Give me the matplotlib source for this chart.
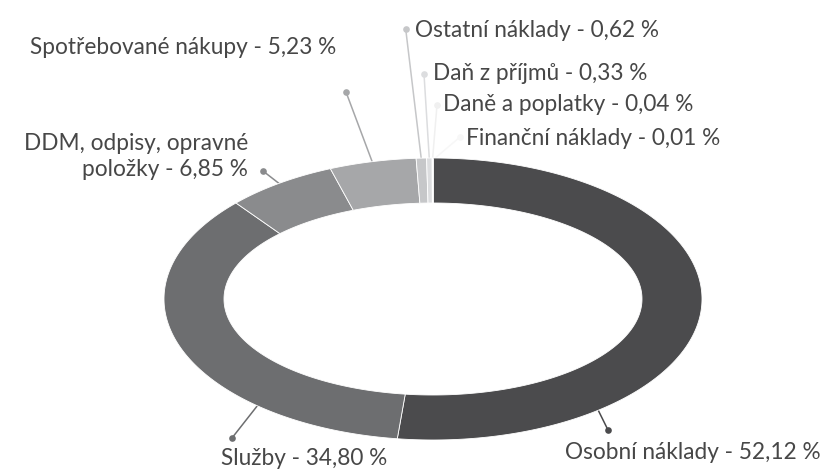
import numpy as np
import matplotlib
matplotlib.use("Agg")
import matplotlib.pyplot as plt
from matplotlib.patches import Polygon

# ---- data ----
categories = ["Osobní náklady", "Služby", "DDM, odpisy, opravné\npoložky",
              "Spotřebované nákupy", "Ostatní náklady", "Daň z příjmů",
              "Daně a poplatky", "Finanční náklady"]
values = [52.12, 34.80, 6.85, 5.23, 0.62, 0.33, 0.04, 0.01]
value_labels = ["52,12", "34,80", "6,85", "5,23", "0,62", "0,33", "0,04", "0,01"]
colors = ["#4b4b4d", "#6d6e70", "#8a8b8d", "#a6a7a9", "#c6c7c9", "#dcdddf",
          "#f0f0f0", "#f7f7f7"]

# ---- layout (pixel space) ----
W, H = 822, 470
cx, cy = 433, 299
RX_OUT, RY_OUT = 269, 141
RX_IN, RY_IN = 209, 96

# label text position (x, baseline y, ha), dot position, anchor angle override
label_pos = [
    (565, 459, "left"),
    (221, 465, "left"),
    (248, 176, "right"),
    (30, 54, "left"),
    (415, 37, "left"),
    (433, 80, "left"),
    (443, 111, "left"),
    (466, 145, "left"),
]
dot_pos = [(608, 430), (232, 438), (263, 171), (346, 92), (405.7, 29),
           (424, 74), (437, 105), (460, 137)]
anchor_override = {0: 142.0, 1: 220.8}

fig = plt.figure(figsize=(W / 100, H / 100), dpi=100)
ax = fig.add_axes([0, 0, 1, 1])
ax.set_xlim(0, W)
ax.set_ylim(H, 0)
ax.axis("off")

total = sum(values)
cum = np.concatenate([[0], np.cumsum(values)]) / total * 360.0


def ell(theta_deg, rx, ry):
    t = np.radians(theta_deg)
    return cx + rx * np.sin(t), cy - ry * np.cos(t)


for i, v in enumerate(values):
    t0, t1 = cum[i], cum[i + 1]
    ts = np.linspace(t0, t1, max(4, int((t1 - t0) * 2) + 2))
    ox, oy = ell(ts, RX_OUT, RY_OUT)
    ix, iy = ell(ts[::-1], RX_IN, RY_IN)
    pts = np.column_stack([np.concatenate([ox, ix]), np.concatenate([oy, iy])])
    ax.add_patch(Polygon(pts, closed=True, facecolor=colors[i],
                         edgecolor="white", linewidth=0.6, zorder=3))

plt.rcParams["font.family"] = ["Lato", "DejaVu Sans"]
for i, v in enumerate(values):
    mid = anchor_override.get(i, (cum[i] + cum[i + 1]) / 2)
    axp, ayp = ell(mid, RX_OUT - 2, RY_OUT - 2)
    dx, dy = dot_pos[i]
    ax.plot([dx, axp], [dy, ayp], color=colors[i], lw=1.1, zorder=2,
            solid_capstyle="round")
    ax.plot([dx], [dy], "o", color=colors[i], markersize=4.8, zorder=2,
            markeredgewidth=0)
    tx, ty, ha = label_pos[i]
    ax.text(tx, ty, f"{categories[i]} - {value_labels[i]} %", ha=ha,
            va="baseline", fontsize=16.3, color="#474747",
            family=["Lato", "DejaVu Sans"], fontweight="normal",
            multialignment="right", linespacing=1.28)

fig.savefig("out.png", dpi=100, facecolor="white")
